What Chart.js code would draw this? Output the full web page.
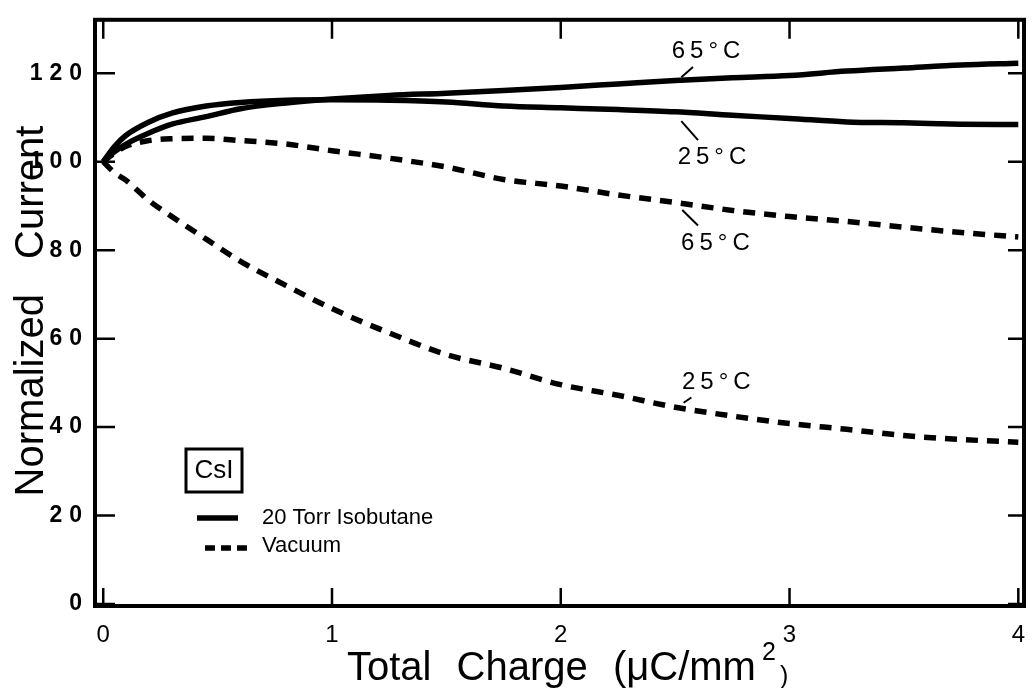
<!DOCTYPE html>
<html>
<head>
<meta charset="utf-8">
<script src="https://cdn.jsdelivr.net/npm/chart.js@4.4.1/dist/chart.umd.min.js"></script>
<style>
  html, body { margin: 0; padding: 0; background: #fff; overflow: hidden; }
  #wrap { width: 1034px; height: 688px; overflow: hidden; }
</style>
</head>
<body>
<div id="wrap"><canvas id="chargeChart" width="1040" height="688"></canvas></div>
<script>
// Total charge (uC/mm^2), shared by every curve
const charge = [0, 0.05, 0.1, 0.2, 0.3, 0.45, 0.6, 0.8, 1.0, 1.25, 1.5, 1.75, 2.0, 2.25, 2.5, 2.75, 3.0, 3.25, 3.5, 3.75, 4.0];

// Normalized current, 20 Torr isobutane
const gas65 = [100, 102.3, 104, 106.5, 108.5, 110.2, 112, 113.3, 114.2, 115, 115.5, 116.1, 116.8, 117.6, 118.4, 119, 119.5, 120.5, 121.2, 121.9, 122.3];
const gas25 = [100, 103.5, 106, 109, 111, 112.6, 113.4, 113.9, 114, 113.9, 113.5, 112.6, 112.2, 111.8, 111.3, 110.5, 109.8, 109.0, 108.8, 108.5, 108.4];

// Normalized current, vacuum
const vac65 = [100, 102, 103.5, 104.8, 105.2, 105.3, 104.8, 104, 102.5, 100.8, 98.8, 96, 94.5, 92.5, 90.8, 89, 87.6, 86.5, 85.2, 84, 83];
const vac25 = [100, 97.5, 95.8, 91.2, 87.6, 82.5, 77.5, 72, 66.8, 61.3, 56.4, 53.3, 49.6, 47.2, 44.5, 42.5, 40.8, 39.5, 38.1, 37.2, 36.6];

const xTicks = [0, 1, 2, 3, 4];
const yTicks = [0, 20, 40, 60, 80, 100, 120];

// curve labels (data coords of text centre and leader line ends)
const tagText = ['65°C', '25°C', '65°C', '25°C'];
const tagX = [2.635, 2.661, 2.676, 2.68];
const tagY = [124.9, 101.0, 81.5, 50.1];
const leadFrom = [[2.578, 121.4], [2.527, 109.2], [2.531, 89.1], [2.571, 46.7]];
const leadTo = [[2.527, 119.1], [2.6, 104.9], [2.6, 85.6], [2.537, 45.5]];

const FONT = '"Liberation Sans", Arial, Helvetica, sans-serif';

function points(values) {
    return charge.map((c, i) => ({ x: c, y: values[i] }));
}

function lineSet(label, values, dashed) {
    return {
        label: label,
        data: points(values),
        borderColor: '#000',
        borderWidth: 5.5,
        borderDash: dashed ? [12, 9] : [],
        pointRadius: 0,
        fill: false,
        cubicInterpolationMode: 'monotone'
    };
}

const framePlugin = {
    id: 'frame',
    afterDatasetsDraw(chart) {
        // spaced digits for the y tick labels (drawn after datasets, see ticks.z)
        chart.ctx.letterSpacing = '7px';
    },
    afterDraw(chart) {
        const ctx = chart.ctx;
        const a = chart.chartArea;
        const xs = chart.scales.x;
        const ys = chart.scales.y;
        ctx.save();
        ctx.letterSpacing = '0px';
        ctx.strokeStyle = '#000';
        ctx.fillStyle = '#000';
        ctx.setLineDash([]);

        // frame
        ctx.lineWidth = 4;
        ctx.strokeRect(a.left, a.top, a.right - a.left, a.bottom - a.top);

        // inward ticks on all sides
        ctx.lineWidth = 2.5;
        ctx.beginPath();
        xTicks.forEach(v => {
            const px = xs.getPixelForValue(v);
            ctx.moveTo(px, a.bottom); ctx.lineTo(px, a.bottom - 18);
            ctx.moveTo(px, a.top); ctx.lineTo(px, a.top + 19);
        });
        yTicks.forEach(v => {
            const py = ys.getPixelForValue(v);
            ctx.moveTo(a.left, py); ctx.lineTo(a.left + 20, py);
            ctx.moveTo(a.right, py); ctx.lineTo(a.right - 16, py);
        });
        ctx.stroke();

        // curve labels with leader lines
        ctx.font = '24px ' + FONT;
        ctx.letterSpacing = '5px';
        ctx.textAlign = 'center';
        ctx.textBaseline = 'middle';
        tagText.forEach((t, i) => {
            ctx.fillText(t, xs.getPixelForValue(tagX[i]) + 2.5, ys.getPixelForValue(tagY[i]));
        });
        ctx.letterSpacing = '0px';
        ctx.lineWidth = 2;
        ctx.beginPath();
        leadFrom.forEach((p, i) => {
            ctx.moveTo(xs.getPixelForValue(p[0]), ys.getPixelForValue(p[1]));
            ctx.lineTo(xs.getPixelForValue(leadTo[i][0]), ys.getPixelForValue(leadTo[i][1]));
        });
        ctx.stroke();

        // legend
        ctx.lineWidth = 3;
        ctx.strokeRect(186, 449, 56, 43);
        ctx.font = '26px ' + FONT;
        ctx.textAlign = 'center';
        ctx.fillText('CsI', 214, 471);

        ctx.lineWidth = 5.5;
        ctx.beginPath();
        ctx.moveTo(197, 518); ctx.lineTo(238, 518);
        ctx.stroke();
        ctx.setLineDash([10, 6]);
        ctx.beginPath();
        ctx.moveTo(205, 548); ctx.lineTo(250, 548);
        ctx.stroke();
        ctx.setLineDash([]);

        ctx.font = '22px ' + FONT;
        ctx.textAlign = 'left';
        ctx.fillText('20 Torr Isobutane', 262, 518);
        ctx.fillText('Vacuum', 262, 546);

        // y axis title
        ctx.save();
        ctx.translate(43, 311);
        ctx.rotate(-Math.PI / 2);
        ctx.font = '40px ' + FONT;
        ctx.wordSpacing = '24px';
        ctx.textAlign = 'center';
        ctx.textBaseline = 'alphabetic';
        ctx.fillText('Normalized Current', 0, 0);
        ctx.restore();

        // x axis title
        ctx.textBaseline = 'alphabetic';
        ctx.textAlign = 'left';
        ctx.font = '40px ' + FONT;
        ctx.wordSpacing = '14px';
        ctx.fillText('Total Charge (\u03BCC/mm', 347, 680);
        ctx.wordSpacing = '0px';
        ctx.font = '25px ' + FONT;
        ctx.fillText('2', 762, 660);
        ctx.fillText(')', 780, 684);

        ctx.restore();
    }
};

const ctx = document.getElementById('chargeChart').getContext('2d');
new Chart(ctx, {
    type: 'line',
    data: {
        datasets: [
            lineSet('20 Torr Isobutane 65°C', gas65, false),
            lineSet('20 Torr Isobutane 25°C', gas25, false),
            lineSet('Vacuum 65°C', vac65, true),
            lineSet('Vacuum 25°C', vac25, true)
        ]
    },
    options: {
        responsive: false,
        animation: false,
        layout: { padding: { top: 14, right: 4, left: 0, bottom: 0 } },
        plugins: {
            legend: { display: false },
            tooltip: { enabled: false }
        },
        scales: {
            x: {
                type: 'linear',
                min: -0.036,
                max: 4.025,
                grid: { display: false, drawTicks: false },
                border: { display: false },
                afterBuildTicks: s => { s.ticks = xTicks.map(v => ({ value: v })); },
                afterFit: s => { s.height = 82; },
                ticks: {
                    color: '#000',
                    padding: 15,
                    maxRotation: 0,
                    font: { family: FONT, size: 24 },
                    callback: v => String(v)
                }
            },
            y: {
                type: 'linear',
                min: -0.45,
                max: 132.1,
                grid: { display: false, drawTicks: false },
                border: { display: false },
                afterBuildTicks: s => { s.ticks = yTicks.map(v => ({ value: v })); },
                afterFit: s => { s.width = 95; },
                ticks: {
                    z: 1,
                    color: '#000',
                    padding: 6,
                    font: { family: FONT, size: 23, weight: 'bold' },
                    callback: v => String(v)
                }
            }
        }
    },
    plugins: [framePlugin]
});
</script>
</body>
</html>
